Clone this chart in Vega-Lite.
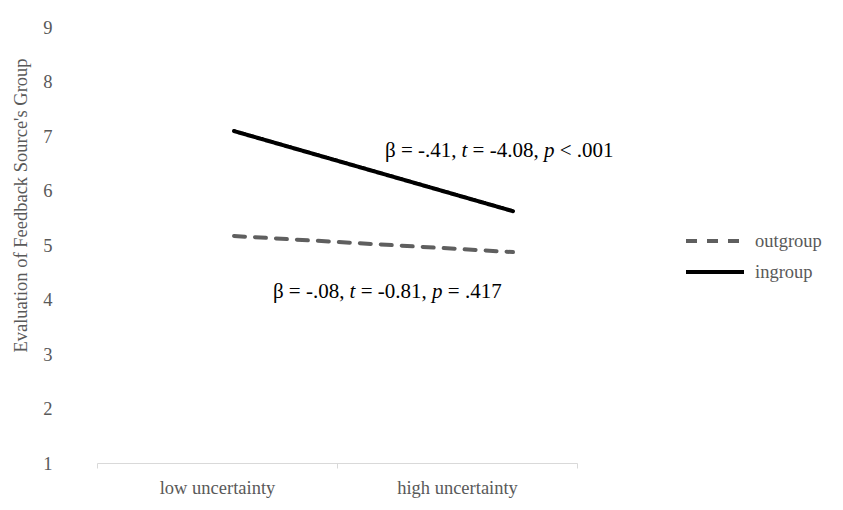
{
  "$schema": "https://vega.github.io/schema/vega-lite/v6.json",
  "width": 480,
  "height": 436,
  "autosize": {"type": "none"},
  "padding": {"left": 97, "top": 27, "right": 266, "bottom": 47},
  "background": "white",
  "config": {
    "view": {"stroke": null},
    "axis": {
      "labelFont": "Liberation Serif",
      "titleFont": "Liberation Serif",
      "labelColor": "#595959",
      "titleColor": "#595959",
      "labelFontSize": 18.5,
      "titleFontSize": 18.5,
      "titleFontWeight": "normal",
      "grid": false
    },
    "axisY": {
      "domain": false,
      "ticks": false,
      "labelPadding": 45,
      "titleX": -77,
      "titleY": 178,
      "titleAlign": "center",
      "titleBaseline": "middle"
    },
    "legend": {
      "orient": "none",
      "legendX": 601.5,
      "legendY": 197.5,
      "padding": 0,
      "title": null,
      "symbolType": "M-2,0H2",
      "symbolSize": 841,
      "symbolStrokeWidth": 4,
      "labelFont": "Liberation Serif",
      "labelFontSize": 18.5,
      "labelColor": "#595959",
      "labelOffset": 23.5,
      "rowPadding": 5
    }
  },
  "datasets": {
    "lines": [
      {"group": "ingroup", "uncertainty": "low uncertainty", "evaluation": 7.09},
      {"group": "ingroup", "uncertainty": "high uncertainty", "evaluation": 5.62},
      {"group": "outgroup", "uncertainty": "low uncertainty", "evaluation": 5.165},
      {"group": "outgroup", "uncertainty": "high uncertainty", "evaluation": 4.87}
    ],
    "notes": [
      {"note": "ingroup", "piece": "β = -.41,", "kind": "text", "xpos": 1.2, "value": 6.725},
      {"note": "ingroup", "piece": "t", "kind": "stat", "xpos": 1.519, "value": 6.725},
      {"note": "ingroup", "piece": "= -4.08,", "kind": "text", "xpos": 1.565, "value": 6.725},
      {"note": "ingroup", "piece": "p", "kind": "stat", "xpos": 1.8625, "value": 6.725},
      {"note": "ingroup", "piece": "< .001", "kind": "text", "xpos": 1.928, "value": 6.725},
      {"note": "outgroup", "piece": "β = -.08,", "kind": "text", "xpos": 0.733, "value": 4.14},
      {"note": "outgroup", "piece": "t", "kind": "stat", "xpos": 1.0525, "value": 4.14},
      {"note": "outgroup", "piece": "= -0.81,", "kind": "text", "xpos": 1.0988, "value": 4.14},
      {"note": "outgroup", "piece": "p", "kind": "stat", "xpos": 1.3958, "value": 4.14},
      {"note": "outgroup", "piece": "= .417", "kind": "text", "xpos": 1.4617, "value": 4.14}
    ]
  },
  "layer": [
    {
      "data": {"name": "lines"},
      "mark": {"type": "point", "opacity": 0},
      "encoding": {
        "x": {
          "field": "uncertainty",
          "type": "nominal",
          "sort": null,
          "scale": {"type": "band", "domain": ["low uncertainty", "high uncertainty"], "paddingInner": 0, "paddingOuter": 0},
          "axis": {
            "title": null,
            "labelAngle": 0,
            "tickBand": "extent",
            "tickSize": 5,
            "tickColor": "#d9d9d9",
            "domainColor": "#d9d9d9",
            "labelPadding": 10
          }
        },
        "y": {
          "field": "evaluation",
          "type": "quantitative",
          "title": "Evaluation of Feedback Source's Group",
          "scale": {"domain": [1, 9], "nice": false, "zero": false},
          "axis": {"values": [1, 2, 3, 4, 5, 6, 7, 8, 9]}
        }
      }
    },
    {
      "data": {"name": "lines"},
      "mark": {"type": "line", "strokeWidth": 4, "strokeCap": "round"},
      "encoding": {
        "x": {
          "field": "uncertainty",
          "type": "nominal",
          "sort": null,
          "scale": {"type": "point", "domain": ["low uncertainty", "high uncertainty"], "padding": 0.3602, "align": 0.6816},
          "axis": null
        },
        "y": {"field": "evaluation", "type": "quantitative", "title": "Evaluation of Feedback Source's Group"},
        "color": {
          "field": "group",
          "type": "nominal",
          "scale": {"domain": ["outgroup", "ingroup"], "range": ["#5f5f5f", "#000000"]}
        },
        "strokeDash": {
          "field": "group",
          "type": "nominal",
          "scale": {"domain": ["outgroup", "ingroup"], "range": [[11, 10], [1, 0]]}
        }
      }
    },
    {
      "data": {"name": "notes"},
      "transform": [{"filter": "datum.kind === 'text'"}],
      "mark": {"type": "text", "align": "left", "baseline": "middle", "font": "Liberation Serif", "fontSize": 21, "color": "#000000"},
      "encoding": {
        "x": {"field": "xpos", "type": "quantitative", "scale": {"domain": [0, 2], "nice": false, "zero": false}, "axis": null},
        "y": {"field": "value", "type": "quantitative", "title": "Evaluation of Feedback Source's Group"},
        "text": {"field": "piece"}
      }
    },
    {
      "data": {"name": "notes"},
      "transform": [{"filter": "datum.kind === 'stat'"}],
      "mark": {"type": "text", "align": "left", "baseline": "middle", "font": "Liberation Serif", "fontSize": 21, "fontStyle": "italic", "color": "#000000"},
      "encoding": {
        "x": {"field": "xpos", "type": "quantitative", "scale": {"domain": [0, 2], "nice": false, "zero": false}, "axis": null},
        "y": {"field": "value", "type": "quantitative", "title": "Evaluation of Feedback Source's Group"},
        "text": {"field": "piece"}
      }
    }
  ],
  "resolve": {"scale": {"x": "independent"}, "axis": {"x": "independent"}}
}
